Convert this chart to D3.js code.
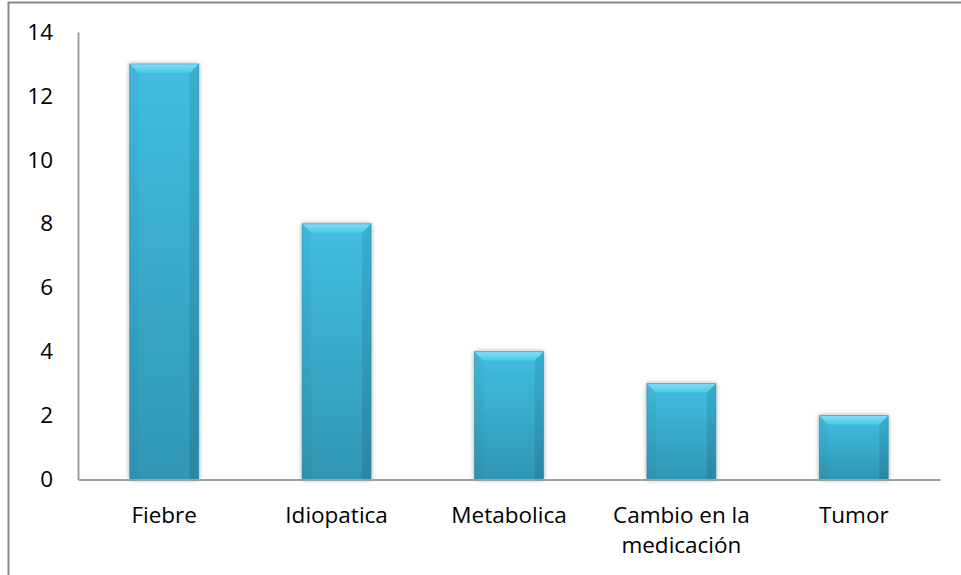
<!DOCTYPE html>
<html>
<head>
<meta charset="utf-8">
<script src="https://cdn.jsdelivr.net/npm/d3@7"></script>
<style>
  html, body { margin: 0; padding: 0; background: #fff; }
  svg { display: block; }
  text { font-family: "Open Sans", "Liberation Sans", sans-serif; fill: #000; }
</style>
</head>
<body>
<script>
// Causes and their counts
const categories = ["Fiebre", "Idiopatica", "Metabolica", "Cambio en la medicación", "Tumor"];
const values = [13, 8, 4, 3, 2];
const yTicks = [0, 2, 4, 6, 8, 10, 12, 14];

const W = 961, H = 575;
const margin = { left: 78, right: 21, top: 32, bottom: 95 };
const FONT = 22.5;

const svg = d3.select("body").append("svg").attr("width", W).attr("height", H);

// Outer frame
svg.append("rect")
  .attr("x", 8.5).attr("y", 2.5)
  .attr("width", W + 10).attr("height", H + 10)
  .attr("fill", "none").attr("stroke", "#898989").attr("stroke-width", 2);

const defs = svg.append("defs");

const gMain = defs.append("linearGradient").attr("id", "barFill")
  .attr("x1", 0).attr("y1", 0).attr("x2", 0).attr("y2", 1);
gMain.append("stop").attr("offset", "0%").attr("stop-color", "#41BEE1");
gMain.append("stop").attr("offset", "100%").attr("stop-color", "#3196B3");

const gLeft = defs.append("linearGradient").attr("id", "leftFill")
  .attr("x1", 0).attr("y1", 0).attr("x2", 0).attr("y2", 1);
gLeft.append("stop").attr("offset", "0%").attr("stop-color", "#39B0D4");
gLeft.append("stop").attr("offset", "100%").attr("stop-color", "#2B8BA7");

const gRight = defs.append("linearGradient").attr("id", "rightFill")
  .attr("x1", 0).attr("y1", 0).attr("x2", 0).attr("y2", 1);
gRight.append("stop").attr("offset", "0%").attr("stop-color", "#2F9FC0");
gRight.append("stop").attr("offset", "100%").attr("stop-color", "#237890");

const gTop = defs.append("linearGradient").attr("id", "topFill")
  .attr("x1", 0).attr("y1", 0).attr("x2", 0).attr("y2", 1);
gTop.append("stop").attr("offset", "0%").attr("stop-color", "#7FE0F6");
gTop.append("stop").attr("offset", "100%").attr("stop-color", "#4CC6E8");

const shadow = defs.append("filter").attr("id", "shadow")
  .attr("x", "-30%").attr("y", "-10%").attr("width", "160%").attr("height", "120%");
shadow.append("feGaussianBlur").attr("in", "SourceAlpha").attr("stdDeviation", 2.5).attr("result", "b");
shadow.append("feComponentTransfer").attr("in", "b").attr("result", "s")
  .append("feFuncA").attr("type", "linear").attr("slope", 0.35);
const merge = shadow.append("feMerge");
merge.append("feMergeNode").attr("in", "s");
merge.append("feMergeNode").attr("in", "SourceGraphic");

const x = d3.scaleBand().domain(categories)
  .range([margin.left, W - margin.right]).paddingInner(0.6).paddingOuter(0.3);
const y = d3.scaleLinear().domain([0, 14]).range([H - margin.bottom - 0.5, margin.top]);

// Bars with a bevelled top and shaded sides
const bev = 9;
const bars = svg.append("g").selectAll("g").data(values).join("g")
  .attr("filter", "url(#shadow)");
bars.each(function (v, i) {
  const g = d3.select(this);
  const x0 = x(categories[i]), x1 = x0 + x.bandwidth();
  const y0 = y(v), yb = y(0);
  g.append("rect").attr("x", x0).attr("y", y0).attr("width", x1 - x0).attr("height", yb - y0)
    .attr("fill", "url(#barFill)");
  g.append("path").attr("d", `M${x0},${y0}L${x0 + bev},${y0 + bev}L${x0 + bev},${yb}L${x0},${yb}Z`)
    .attr("fill", "url(#leftFill)").attr("opacity", 0.45);
  g.append("path").attr("d", `M${x1},${y0}L${x1 - bev},${y0 + bev}L${x1 - bev},${yb}L${x1},${yb}Z`)
    .attr("fill", "url(#rightFill)").attr("opacity", 0.5);
  g.append("path").attr("d", `M${x0},${y0}L${x1},${y0}L${x1 - bev},${y0 + bev}L${x0 + bev},${y0 + bev}Z`)
    .attr("fill", "url(#topFill)");
  g.append("rect").attr("x", x0).attr("y", y0).attr("width", x1 - x0).attr("height", yb - y0)
    .attr("fill", "none").attr("stroke", "#2A8199").attr("stroke-opacity", 0.5).attr("stroke-width", 1);
});

// Axes
const yAxis = d3.axisLeft(y).tickValues(yTicks).tickSize(0).tickPadding(25);
const gy = svg.append("g").attr("transform", `translate(${margin.left},0)`).call(yAxis);
gy.select(".domain").attr("stroke", "#A0A0A0").attr("stroke-width", 2);
gy.selectAll("text").attr("font-size", FONT).attr("font-family", "'Open Sans', sans-serif").attr("fill", "#000");

const xAxis = d3.axisBottom(x).tickSize(0).tickPadding(0);
const gx = svg.append("g").attr("transform", `translate(0,${y(0)})`).call(xAxis);
gx.select(".domain").attr("stroke", "#A0A0A0").attr("stroke-width", 2);
gx.selectAll("text").remove();

// Category labels, wrapped the way the long one breaks
const labelLines = { "Cambio en la medicación": ["Cambio en la", "medicación"] };
categories.forEach(c => {
  const lines = labelLines[c] || [c];
  const cx = x(c) + x.bandwidth() / 2;
  const t = svg.append("text")
    .attr("x", cx)
    .attr("y", 523)
    .attr("text-anchor", "middle")
    .attr("font-size", FONT);
  lines.forEach((l, k) => t.append("tspan").attr("x", cx).attr("dy", k ? 30 : 0).text(l));
});
</script>
</body>
</html>
